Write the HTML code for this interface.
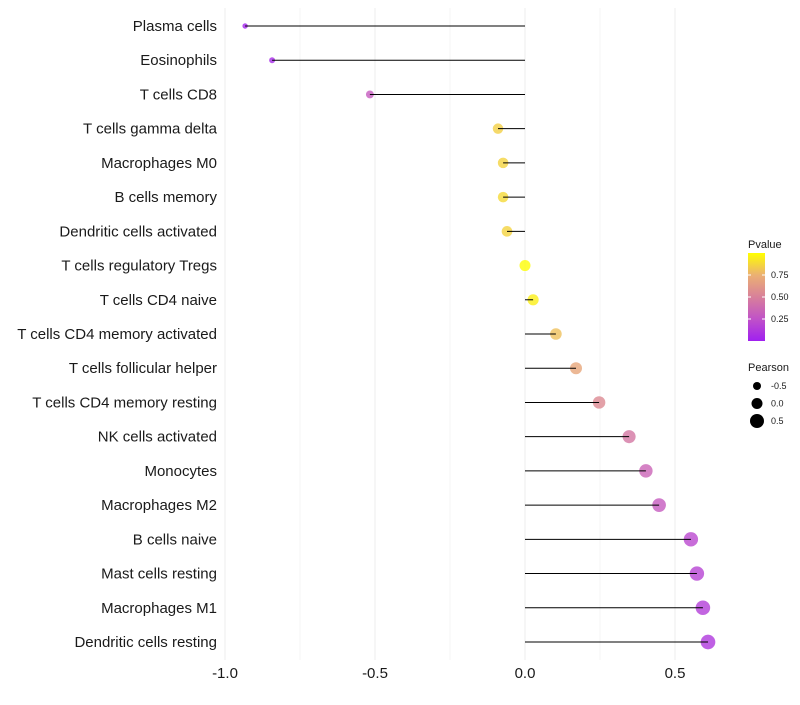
<!DOCTYPE html>
<html><head><meta charset="utf-8"><style>
body{margin:0;background:#fff;font-family:"Liberation Sans",sans-serif;}
</style></head><body>
<svg id="chart" width="800" height="700"></svg>
<script>
const categories=["Plasma cells","Eosinophils","T cells CD8","T cells gamma delta","Macrophages M0","B cells memory","Dendritic cells activated","T cells regulatory  Tregs","T cells CD4 naive","T cells CD4 memory activated","T cells follicular helper","T cells CD4 memory resting","NK cells activated","Monocytes","Macrophages M2","B cells naive","Mast cells resting","Macrophages M1","Dendritic cells resting"];
const pearson=[-0.933,-0.843,-0.517,-0.09,-0.073,-0.073,-0.06,0.0,0.027,0.103,0.17,0.247,0.347,0.403,0.447,0.553,0.573,0.593,0.61];
const pvalue=[0.02,0.05,0.3,0.85,0.86,0.88,0.86,0.99,0.95,0.8,0.7,0.55,0.45,0.35,0.3,0.2,0.18,0.15,0.12];
const xTicks=[-1.0,-0.5,0.0,0.5];
const xTickLabels=["-1.0","-0.5","0.0","0.5"];
const legendP=[0.25,0.5,0.75];
const legendR=[-0.5,0,0.5];

const NS="http://www.w3.org/2000/svg";
const svg=document.getElementById('chart');
function mk(t,a,p){const e=document.createElementNS(NS,t);for(const k in a)e.setAttribute(k,a[k]);(p||svg).appendChild(e);return e;}
const xs=v=>525+300*v;
const ys=i=>26+i*(616/18);
const rs=v=>5.5+3*v;
const stops=[[160,32,240],[192,82,200],[216,128,154],[235,176,115],[255,255,0]];
function col(p){p=Math.max(0,Math.min(1,p));const t=p*4,i=Math.min(3,Math.floor(t)),f=t-i;const a=stops[i],b=stops[i+1];return `rgb(${a.map((c,k)=>Math.round(c+(b[k]-c)*f)).join(',')})`;}
// grid
for(let v=-1;v<=0.51;v+=0.25){const l=mk('line',{x1:xs(v),x2:xs(v),y1:8,y2:660,stroke:'#ebebeb','stroke-width':Math.abs(v*2-Math.round(v*2))<1e-6?0.9:0.5});

}
categories.forEach((c,i)=>{
 const y=ys(i);
 const t=mk('text',{x:217,y:y+5,'text-anchor':'end','font-size':15,fill:'#1a1a1a'});t.textContent=c;
 
 
 const d=mk('circle',{cx:xs(pearson[i]),cy:y,r:rs(pearson[i]),fill:col(pvalue[i]),'fill-opacity':0.8});
 
 
 const s=mk('line',{x1:xs(0),x2:xs(pearson[i]),y1:y,y2:y,stroke:'#000','stroke-width':1});
 
 
});
xTicks.forEach((v,i)=>{const t=mk('text',{x:xs(v),y:678,'text-anchor':'middle','font-size':15,fill:'#1a1a1a'});t.textContent=xTickLabels[i];

});
// legend
const g=mk('g',{});


let t=mk('text',{x:748,y:248,'font-size':11,fill:'#1a1a1a'},g);t.textContent='Pvalue';
const defs=mk('defs',{},g);const lg=mk('linearGradient',{id:'pg',x1:0,y1:1,x2:0,y2:0},defs);
stops.forEach((s,i)=>mk('stop',{offset:i/4,'stop-color':`rgb(${s.join(',')})`},lg));
const cb=mk('rect',{x:748,y:253,width:17,height:88,fill:'url(#pg)'},g);


legendP.forEach(p=>{const y=341-88*p;mk('line',{x1:748,x2:751,y1:y,y2:y,stroke:'#fff'},g);mk('line',{x1:762,x2:765,y1:y,y2:y,stroke:'#fff'},g);
const tt=mk('text',{x:771,y:y+3,'font-size':9,fill:'#1a1a1a'},g);tt.textContent=p.toFixed(2);});
t=mk('text',{x:748,y:371,'font-size':11,fill:'#1a1a1a'},g);t.textContent='Pearson';
legendR.forEach((v,i)=>{const y=386+17.5*i;mk('circle',{cx:757,cy:y,r:rs(v),fill:'#000'},g);
const tt=mk('text',{x:771,y:y+3,'font-size':9,fill:'#1a1a1a'},g);tt.textContent=v===0?'0.0':String(v);});
</script>
</body></html>
